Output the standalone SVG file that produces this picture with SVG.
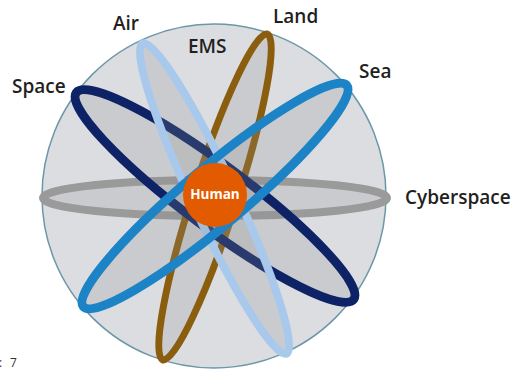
<svg xmlns="http://www.w3.org/2000/svg" width="514" height="370" viewBox="0 0 514 370">
<style>
.lbl{font-family:"Open Sans","Liberation Sans",sans-serif;font-weight:600;font-size:19px;fill:#231f20}
.ring{fill:#8f8f8f;fill-opacity:0.22}
</style>
<rect width="514" height="370" fill="#ffffff"/>
<g id="sphere">
<circle cx="214" cy="196" r="172" fill="#dcdde0" stroke="#6b97a8" stroke-width="1.5"/>
</g>
<g id="connectors">
<ellipse id="cyberspace-ring" class="ring" cx="215" cy="198" rx="172" ry="18" stroke="#9a9a9a" stroke-width="8"/>
<ellipse id="land-ring" class="ring" cx="215" cy="197" rx="171" ry="22" transform="rotate(-72.2 215 197)" stroke="#8b5e0f" stroke-width="7"/>
<ellipse id="space-ring" class="ring" cx="215" cy="196" rx="173" ry="31" transform="rotate(36.7 215 196)" stroke="#0d2366" stroke-width="9"/>
<ellipse id="air-ring" class="ring" cx="214.5" cy="198.5" rx="171" ry="22" transform="rotate(65.1 214.5 198.5)" stroke="#a9c9ec" stroke-width="8"/>
<ellipse id="sea-ring" class="ring" cx="215" cy="196" rx="172" ry="29" transform="rotate(-40 215 196)" stroke="#1c84c6" stroke-width="9"/>
</g>
<g id="human">
<circle cx="215" cy="195" r="32" fill="#e35b00"/>
<text x="215" y="199" text-anchor="middle" font-family="'Open Sans','Liberation Sans',sans-serif" font-weight="700" font-size="13.5" fill="#ffffff">Human</text>
</g>
<g id="labels">
<text class="lbl" x="12" y="93">Space</text>
<text class="lbl" x="113" y="30">Air</text>
<text class="lbl" x="188" y="53">EMS</text>
<text class="lbl" x="273" y="23">Land</text>
<text class="lbl" x="359" y="78">Sea</text>
<text class="lbl" x="405" y="204">Cyberspace</text>
</g>
<text x="-1" y="367" font-family="'Open Sans','Liberation Sans',sans-serif" font-size="12" fill="#333333">:<tspan x="10">7</tspan></text>
</svg>
